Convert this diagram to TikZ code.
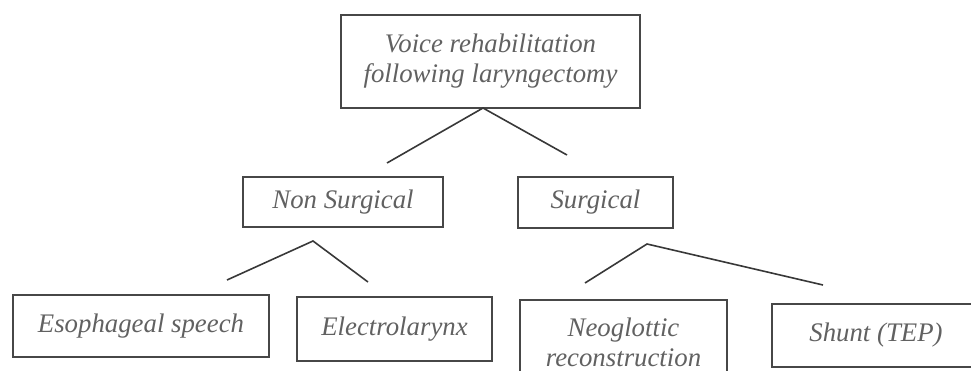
\documentclass[tikz,border=0pt]{standalone}
\usepackage{fontspec}
\setmainfont{Liberation Serif}

\begin{document}
\begin{tikzpicture}[x=1pt,y=-1pt,
		box/.style={draw=black!72, line width=1.3pt, align=center, inner sep=0pt, text=black!62, font=\fontsize{26.8}{30}\selectfont\itshape},
		link/.style={draw=black!78, line width=1.6pt}]
		\clip (0,0) rectangle (971,371);
		% boxes
		\node[box, minimum width=299pt, minimum height=93pt] (voice) at (490.5,61.5) {Voice rehabilitation\\following laryngectomy};
		\node[box, minimum width=200pt, minimum height=50pt] (nonsurg) at (343,202) {Non Surgical};
		\node[box, minimum width=155pt, minimum height=51pt] (surg) at (595.5,202.5) {Surgical};
		\node[box, minimum width=256pt, minimum height=62pt] (esoph) at (141,326) {Esophageal speech};
		\node[box, minimum width=195pt, minimum height=64pt] (electro) at (394.5,329) {Electrolarynx};
		\node[box, minimum width=207pt, minimum height=84pt] (neoglot) at (623.5,342) {Neoglottic\\reconstruction};
		\node[box, minimum width=208pt, minimum height=63pt] (shunt) at (876,335.5) {Shunt (TEP)};
		% forks
		\coordinate (voice-fork) at (483,108);
		\coordinate (nonsurg-in) at (387,163);
		\coordinate (surg-in) at (567,155);
		\coordinate (nonsurg-fork) at (313,241);
		\coordinate (esoph-in) at (227,280);
		\coordinate (electro-in) at (368,282);
		\coordinate (surg-fork) at (647,244);
		\coordinate (neoglot-in) at (585,283);
		\coordinate (shunt-in) at (823,285);
		\draw[link] (nonsurg-in) -- (voice-fork) -- (surg-in);
		\draw[link] (esoph-in) -- (nonsurg-fork) -- (electro-in);
		\draw[link] (neoglot-in) -- (surg-fork) -- (shunt-in);
	\end{tikzpicture}
\end{document}
